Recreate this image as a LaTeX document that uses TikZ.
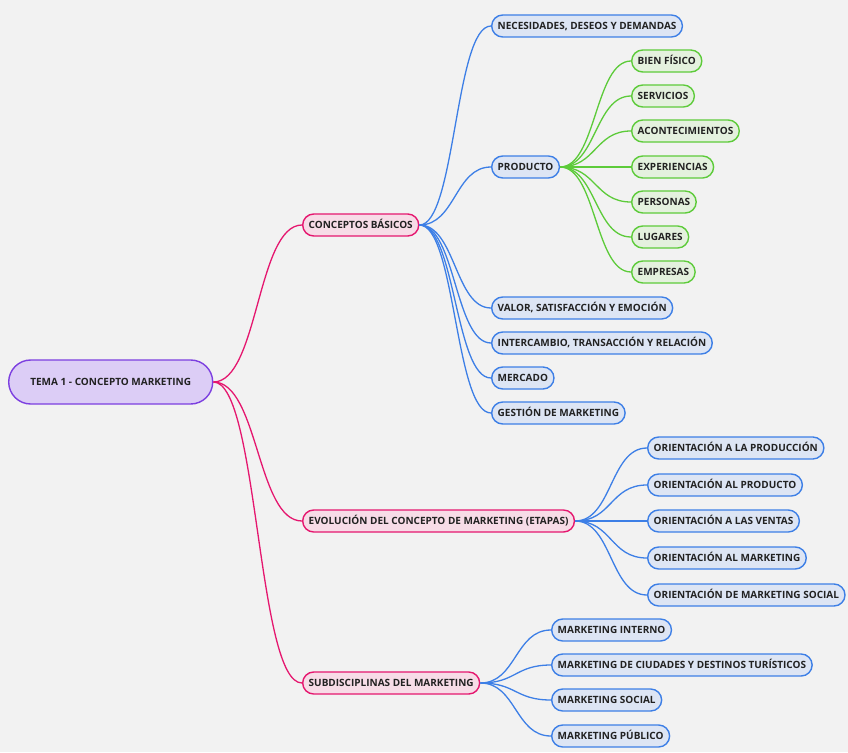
\documentclass[tikz,border=0pt]{standalone}
\usepackage{fontspec}
\setmainfont{Open Sans}
\definecolor{bg}{HTML}{F2F2F2}
\definecolor{txt}{HTML}{222222}
\definecolor{pinkline}{HTML}{E5176F}
\definecolor{pinkfill}{HTML}{F7DCE7}
\definecolor{blueline}{HTML}{3D7FE6}
\definecolor{bluefill}{HTML}{DDE5F4}
\definecolor{greenline}{HTML}{5DCB3A}
\definecolor{greenfill}{HTML}{E4F1DE}
\definecolor{purpleline}{HTML}{7C3FE0}
\definecolor{purplefill}{HTML}{DCCDF6}
\begin{document}
\begin{tikzpicture}[x=1pt,y=-1pt,
    box/.style={draw,line width=1.4pt,rounded corners=11pt,minimum height=22pt,inner xsep=6pt,inner ysep=0pt,
        text height=7.2pt,text depth=0pt,anchor=west,text=txt,font=\fontsize{10}{12}\selectfont\bfseries},
    topic/.style={box,draw=pinkline,fill=pinkfill},
    idea/.style={box,draw=blueline,fill=bluefill},
    kind/.style={box,draw=greenline,fill=greenfill},
    pinklink/.style={draw=pinkline,line width=1.3pt},
    bluelink/.style={draw=blueline,line width=1.3pt},
    greenlink/.style={draw=greenline,line width=1.3pt}]
    \fill[bg] (0,0) rectangle (848,752);
    \useasboundingbox (0,0) rectangle (848,752);
    % centre
    \node[box,draw=purpleline,fill=purplefill,minimum width=204pt,minimum height=44pt,rounded corners=22pt] (tema) at (8,382) {TEMA 1 - CONCEPTO MARKETING};
    % ramas
    \node[topic] (cb) at (302,225) {CONCEPTOS BÁSICOS};
    \node[topic] (ev) at (302,521) {EVOLUCIÓN DEL CONCEPTO DE MARKETING (ETAPAS)};
    \node[topic] (sd) at (302,683) {SUBDISCIPLINAS DEL MARKETING};
    \foreach \r in {cb,ev,sd}{\path[pinklink] (tema.east) .. controls +(45,0) and +(-45,0) .. (\r.west);}
    % conceptos basicos
    \foreach \i/\y/\t in {1/26/{NECESIDADES, DESEOS Y DEMANDAS},2/167/PRODUCTO,3/308/{VALOR, SATISFACCIÓN Y EMOCIÓN},
        4/343/{INTERCAMBIO, TRANSACCIÓN Y RELACIÓN},5/378/MERCADO,6/413/GESTIÓN DE MARKETING}{
        \node[idea] (cb\i) at (491,\y) {\t};
        \path[bluelink] (cb.east) .. controls +(36,0) and +(-36,0) .. (cb\i.west);}
    % producto
    \foreach \i/\y/\t in {1/61/BIEN FÍSICO,2/96/SERVICIOS,3/131/ACONTECIMIENTOS,4/167/EXPERIENCIAS,
        5/202/PERSONAS,6/237/LUGARES,7/272/EMPRESAS}{
        \node[kind] (pr\i) at (631,\y) {\t};
        \path[greenlink] (cb2.east) .. controls +(36,0) and +(-36,0) .. (pr\i.west);}
    % etapas
    \foreach \i/\y/\t in {1/448/ORIENTACIÓN A LA PRODUCCIÓN,2/485/ORIENTACIÓN AL PRODUCTO,3/521/ORIENTACIÓN A LAS VENTAS,
        4/558/ORIENTACIÓN AL MARKETING,5/595/ORIENTACIÓN DE MARKETING SOCIAL}{
        \node[idea] (ev\i) at (647,\y) {\t};
        \path[bluelink] (ev.east) .. controls +(37,0) and +(-37,0) .. (ev\i.west);}
    % subdisciplinas
    \foreach \i/\y/\t in {1/630/MARKETING INTERNO,2/665/MARKETING DE CIUDADES Y DESTINOS TURÍSTICOS,
        3/700/MARKETING SOCIAL,4/736/MARKETING PÚBLICO}{
        \node[idea] (sd\i) at (551,\y) {\t};
        \path[bluelink] (sd.east) .. controls +(36,0) and +(-36,0) .. (sd\i.west);}
\end{tikzpicture}
\end{document}
